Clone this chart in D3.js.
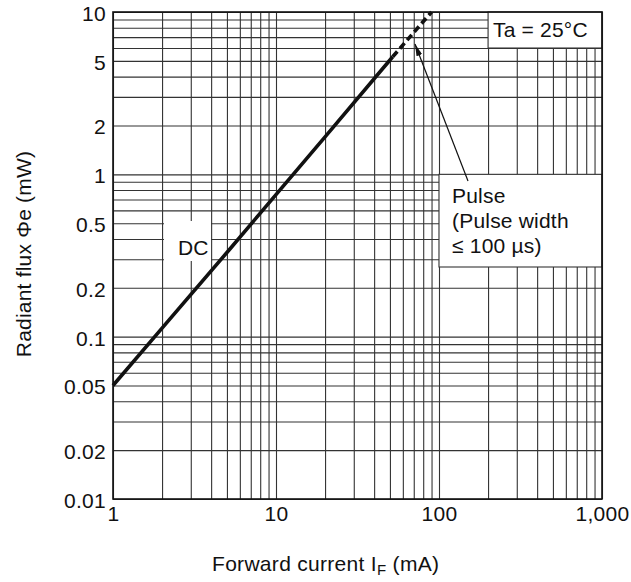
<!DOCTYPE html>
<html><head><meta charset="utf-8">
<script src="https://cdn.jsdelivr.net/npm/d3@7"></script>
<style>body{margin:0;background:#fff}</style>
</head><body><svg id="c" width="631" height="582"></svg>
<script>
// Data
const dcCurrent = [1, 2, 5, 10, 20, 52];
const dcFlux = [0.05, 0.113, 0.33, 0.75, 1.7, 5.3];
const pulseCurrent = [52, 90];
const pulseFlux = [5.3, 10];
const xTickValues = [1, 10, 100, 1000];
const xTickText = ["1", "10", "100", "1,000"];
const yTickValues = [0.01, 0.02, 0.05, 0.1, 0.2, 0.5, 1, 2, 5, 10];
const yTickText = ["0.01", "0.02", "0.05", "0.1", "0.2", "0.5", "1", "2", "5", "10"];

const FONT = "'Liberation Sans', Arial, Helvetica, sans-serif";
const svg = d3.select("#c");
const m = {left: 113, top: 12, right: 29, bottom: 83};
const W = 631, H = 582;
const w = W - m.left - m.right, h = H - m.top - m.bottom;

const x = d3.scaleLog().domain([1, 1000]).range([0, w]);
const y = d3.scaleLog().domain([0.01, 10]).range([h, 0]);

const g = svg.append("g").attr("transform", `translate(${m.left},${m.top})`);

// grid
const gx = g.append("g").attr("transform", `translate(0,${h})`)
  .call(d3.axisBottom(x).tickValues(x.ticks()).tickSize(-h).tickFormat(""));
const gy = g.append("g")
  .call(d3.axisLeft(y).tickValues(y.ticks()).tickSize(-w).tickFormat(""));
[gx, gy].forEach(a => {
  a.select(".domain").remove();
  a.selectAll("line").attr("stroke", "#333").attr("stroke-width", 1.1);
});

// white annotation boxes
g.append("rect")
  .attr("x", x(200)).attr("y", 0)
  .attr("width", w - x(200)).attr("height", y(6))
  .attr("fill", "#fff").attr("stroke", "#333").attr("stroke-width", 1.1);
g.append("rect")
  .attr("x", x(100)).attr("y", y(1))
  .attr("width", w - x(100)).attr("height", 267 - m.top - y(1))
  .attr("fill", "#fff").attr("stroke", "#333").attr("stroke-width", 1.1);
g.append("rect")
  .attr("x", 164 - m.left).attr("y", 221 - m.top)
  .attr("width", 47).attr("height", 40)
  .attr("fill", "#fff");

// frame
g.append("rect").attr("width", w).attr("height", h)
  .attr("fill", "none").attr("stroke", "#111").attr("stroke-width", 1.6);

// curves
const line = d3.line().x(d => x(d[0])).y(d => y(d[1]));
g.append("path").datum(d3.zip(dcCurrent, dcFlux))
  .attr("d", line).attr("fill", "none").attr("stroke", "#111")
  .attr("stroke-width", 3.6).attr("stroke-linecap", "butt");
g.append("path").datum(d3.zip(pulseCurrent, pulseFlux))
  .attr("d", line).attr("fill", "none").attr("stroke", "#111")
  .attr("stroke-width", 3.6).attr("stroke-dasharray", "7,4");

// arrow
svg.append("defs").append("marker")
  .attr("id", "ah").attr("viewBox", "0 0 12 6").attr("refX", 12).attr("refY", 3)
  .attr("markerWidth", 12).attr("markerHeight", 6).attr("markerUnits", "userSpaceOnUse")
  .attr("orient", "auto")
  .append("path").attr("d", "M0,0 L12,3 L0,6 Z").attr("fill", "#111");
svg.append("line")
  .attr("x1", 468).attr("y1", 181).attr("x2", 415).attr("y2", 44)
  .attr("stroke", "#111").attr("stroke-width", 1.2)
  .attr("marker-end", "url(#ah)");

// axis labels
const ax = g.append("g").attr("transform", `translate(0,${h})`)
  .call(d3.axisBottom(x).tickValues(xTickValues).tickSize(0).tickPadding(7)
    .tickFormat((d, i) => xTickText[i]));
const ay = g.append("g")
  .call(d3.axisLeft(y).tickValues(yTickValues).tickSize(0).tickPadding(7)
    .tickFormat((d, i) => yTickText[i]));
[ax, ay].forEach(a => {
  a.select(".domain").remove();
  a.selectAll("text").attr("font-family", FONT).attr("font-size", 21)
    .attr("fill", "#111").attr("letter-spacing", "0.3px");
});
ay.selectAll("text").attr("dy", "0.4em");

// annotation texts
const txt = (t, xx, yy) => svg.append("text").attr("x", xx).attr("y", yy)
  .attr("font-family", FONT).attr("font-size", 21).attr("fill", "#111")
  .attr("letter-spacing", "0.2px").text(t);
txt("Ta = 25°C", 493, 37);
txt("Pulse", 452, 203);
txt("(Pulse width", 452, 228);
txt("≤ 100 µs)", 452, 253);
txt("DC", 178, 255);

// axis titles
svg.append("text")
  .attr("transform", "translate(31,254) rotate(-90)")
  .attr("text-anchor", "middle")
  .attr("font-family", FONT).attr("font-size", 21).attr("fill", "#111")
  .attr("letter-spacing", "0.2px")
  .text("Radiant flux Φe (mW)");
const xt = svg.append("text").attr("x", 212).attr("y", 571)
  .attr("font-family", FONT).attr("font-size", 21).attr("fill", "#111")
  .attr("letter-spacing", "0.3px");
xt.append("tspan").text("Forward current I");
xt.append("tspan").attr("font-size", 15).attr("dy", 4).text("F");
xt.append("tspan").attr("dy", -4).text(" (mA)");
</script></body></html>
